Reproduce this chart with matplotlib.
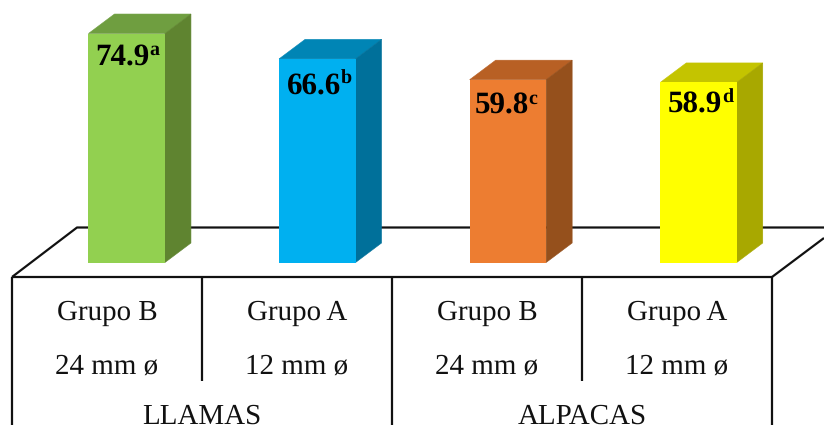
import matplotlib
matplotlib.use("Agg")
import matplotlib.pyplot as plt
from matplotlib.patches import Polygon

plt.rcParams['font.family'] = ['Liberation Serif', 'DejaVu Serif']
plt.rcParams['text.hinting'] = 'none'
plt.rcParams['text.hinting_factor'] = 1

# Values
values = [74.9, 66.6, 59.8, 58.9]
letters = ['a', 'b', 'c', 'd']
groups = ['Grupo B', 'Grupo A', 'Grupo B', 'Grupo A']
sizes = ['24 mm ø', '12 mm ø', '24 mm ø', '12 mm ø']
species = ['LLAMAS', 'ALPACAS']

front_colors = ['#92D050', '#00B0F0', '#ED7D31', '#FFFF00']
top_colors = ['#6F9E40', '#0085B5', '#B86024', '#C4C400']
side_colors = ['#5F8430', '#00709A', '#95501C', '#A8A800']

# Nudges of each value label inside its bar, in pixels
label_dx = [7, 8, 5, 8]
label_dy = [31, 35, 34, 30]

W, H = 824, 425
fig = plt.figure(figsize=(W / 100, H / 100), dpi=100)

# Pixel axes for the floor and the table under the bars
table_ax = fig.add_axes([0, 0, 1, 1], zorder=1)
table_ax.set_xlim(0, W)
table_ax.set_ylim(H, 0)
table_ax.axis('off')

line_style = dict(color='#111111', lw=1.6, solid_capstyle='butt')
table_ax.plot([12, 77, 824], [277, 227.5, 227.5], **line_style)
table_ax.plot([12, 772], [277, 277], **line_style)
table_ax.plot([772, 824], [277, 238], **line_style)
for x in [12, 392, 772]:
    table_ax.plot([x, x], [277, 425], **line_style)
for x in [202, 582]:
    table_ax.plot([x, x], [277, 381], **line_style)

for x, g, s in zip([107, 297, 487, 677], groups, sizes):
    table_ax.text(x, 320, g, fontsize=21, ha='center', va='baseline', color='#111111')
    table_ax.text(x, 373.5, s, fontsize=21, ha='center', va='baseline', color='#111111')
for x, name in zip([202, 582], species):
    table_ax.text(x, 424, name, fontsize=21, ha='center', va='baseline', color='#111111')

# Data axes for the bars: 190.6 px per category, 3.057 px per unit
px_x = 190.6
px_y = 3.057
bar_ax = fig.add_axes([0, 0, 1, 1], zorder=2)
bar_ax.patch.set_alpha(0)
bar_ax.set_xlim(-126.7 / px_x, (W - 126.7) / px_x)
bar_ax.set_ylim((262.5 - H) / px_y, 262.5 / px_y)
bar_ax.axis('off')

width = 76.5 / px_x
depth_x = 26 / px_x
depth_y = 19.5 / px_y

positions = range(len(values))
bar_ax.bar(positions, values, width=width, color=front_colors, zorder=3.2)

fig.canvas.draw()
for i, v in enumerate(values):
    left = i - width / 2
    right = i + width / 2
    bar_ax.add_patch(Polygon([(left, v), (right, v), (right + depth_x, v + depth_y), (left + depth_x, v + depth_y)],
                             facecolor=top_colors[i], edgecolor=top_colors[i], lw=0.4, zorder=3))
    bar_ax.add_patch(Polygon([(right, 0), (right + depth_x, depth_y), (right + depth_x, v + depth_y), (right, v)],
                             facecolor=side_colors[i], edgecolor=side_colors[i], lw=0.4, zorder=3.1))

    # Value label, then its letter as a raised small text right after it
    tx = left + label_dx[i] / px_x
    ty = v - label_dy[i] / px_y
    t = bar_ax.text(tx, ty, f'{v:.1f}', fontsize=22, fontweight='bold', ha='left', va='baseline',
                    color='black', zorder=4)
    end_x = bar_ax.transData.inverted().transform((t.get_window_extent().x1, 0))[0]
    bar_ax.text(end_x - 0.5 / px_x, ty + 10 / px_y, letters[i], fontsize=14.5, fontweight='bold',
                ha='left', va='baseline', color='black', zorder=4)

fig.savefig('out.png', dpi=100)
